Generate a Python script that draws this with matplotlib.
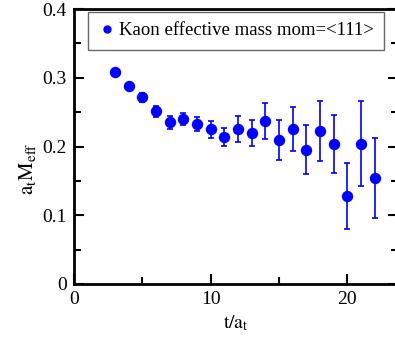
import numpy as np
import matplotlib
matplotlib.use("Agg")
from matplotlib import pyplot as plt
from matplotlib.ticker import MultipleLocator
from matplotlib.lines import Line2D

plt.rcParams['font.family'] = ['Liberation Serif', 'DejaVu Serif']
plt.rcParams['mathtext.fontset'] = 'stix'

# effective mass data
t = [3, 4, 5, 6, 7, 8, 9, 10, 11, 12, 13, 14, 15, 16, 17, 18, 19, 20, 21, 22]
meff = [0.308, 0.288, 0.2715, 0.251, 0.235, 0.240, 0.233, 0.225, 0.214, 0.225,
        0.220, 0.2376, 0.210, 0.2255, 0.195, 0.222, 0.2036, 0.128, 0.204, 0.154]
err = [0.003, 0.004, 0.007, 0.008, 0.009, 0.009, 0.010, 0.0125, 0.0136, 0.0187,
       0.019, 0.026, 0.029, 0.032, 0.0356, 0.0436, 0.0417, 0.0475, 0.062, 0.058]
label = 'Kaon effective mass mom=<111>'

fig = plt.figure(figsize=(3.95, 3.42), dpi=100)
ax = fig.add_axes([0.187, 0.1696, 0.82, 0.804])

ax.errorbar(t, meff, yerr=err, fmt='o', color='#0000ff', ecolor='#0000ff',
            markersize=7.2, elinewidth=1.2, capsize=2.5, capthick=1.2)

ax.set_xlim(0, 23.7)
ax.set_ylim(0, 0.4)
ax.xaxis.set_minor_locator(MultipleLocator(5))
ax.yaxis.set_minor_locator(MultipleLocator(0.05))
ax.set_yticks([0, 0.1, 0.2, 0.3, 0.4])
ax.set_yticklabels(['0', '0.1', '0.2', '0.3', '0.4'])
ax.set_xticks([0, 10, 20])
ax.set_xticklabels(['0', '10', '20'])

ax.tick_params(which='both', direction='in', right=True, top=False,
               labelsize=14, width=1.5)
ax.tick_params(which='major', length=7, pad=5)
ax.tick_params(which='minor', length=5)
for s in ax.spines.values():
    s.set_linewidth(2)

ax.set_xlabel(r'$\mathrm{t/a_t}$', fontsize=14, labelpad=4)
ax.set_ylabel(r'$\mathrm{a_tM_{eff}}$', fontsize=15, labelpad=2)
ax.yaxis.set_label_coords(-0.11, 0.42)

handle = Line2D([], [], marker='o', linestyle='none', color='#0000ff',
                markersize=5)
leg = ax.legend([handle], [label], loc='upper left', fontsize=13.5,
                frameon=True, fancybox=False, handletextpad=0.1,
                borderpad=0.55, handlelength=1.0, borderaxespad=0,
                bbox_to_anchor=(0.043, 0.99))
leg.get_frame().set_edgecolor('#444444')
leg.get_frame().set_linewidth(1.0)

fig.savefig('out.png', dpi=100)
